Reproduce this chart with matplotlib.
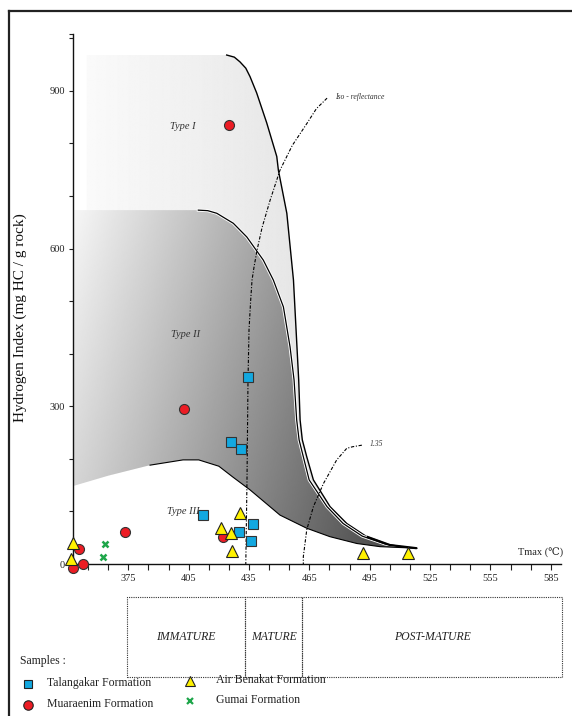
import numpy as np
import matplotlib
matplotlib.use("Agg")
import matplotlib.pyplot as plt
from matplotlib.patches import Polygon, Rectangle
from matplotlib.lines import Line2D
from matplotlib.transforms import blended_transform_factory

# ---------------- data ----------------
talangakar_tmax = [434.7, 426.1, 431.0, 412.0, 430.2, 436.9, 436.0]
talangakar_hi = [356, 232, 218, 93, 61, 76, 44]

muaraenim_tmax = [425.1, 402.5, 373.4, 422.0, 350.5, 347.3, 352.3]
muaraenim_hi = [835, 295, 60, 52, 28, -7, 0]

air_benakat_tmax = [430.5, 421.1, 426.1, 426.6, 347.4, 346.4, 491.6, 513.9]
air_benakat_hi = [97, 69, 59, 25, 39, 9, 21, 21]

gumai_tmax = [363.2, 362.4]
gumai_hi = [38, 13]

# kerogen-type envelopes (Tmax, HI)
type1_top_left = (354.3, 968)
type1_tmax = [423.9, 427.7, 430.5, 433.4, 435.5, 438.8, 443.8, 448.8, 449.6, 453.8, 457.1, 458.4,
              459.7, 460.4, 461.5, 463.7, 467.0, 475.3, 483.6, 493.5, 505.1, 518.4]
type1_hi = [968, 964, 955, 943, 927, 896, 839, 775, 749, 667, 540, 445,
            350, 274, 236, 204, 160, 109, 77, 52, 36, 30]

type2_left = (345.5, 673)
type2_tmax = [409.8, 414.5, 419.0, 427.2, 433.9, 442.1, 447.1, 452.1, 455.4, 457.4, 458.7,
              459.9, 462.0, 464.9, 473.8, 481.8, 491.3, 502.7, 512.6, 518.4]
type2_hi = [673, 672, 667, 648, 622, 578, 540, 489, 413, 350, 274,
            236, 204, 160, 109, 77, 53, 38, 32, 30]

type3_tmax = [345.5, 365.0, 385.8, 402.2, 410.0, 420.0, 427.1, 435.5, 450.4, 463.7,
              475.2, 488.6, 500.1, 518.4]
type3_hi = [146, 168, 188, 198, 198, 186, 165, 141, 93, 68, 52, 39, 33, 30]

iso1_tmax = [473.8, 468.5, 463.8, 456.5, 450.4, 445.5, 441.5, 439.0, 437.5, 436.5, 435.8,
             435.0, 434.5, 434.0, 433.4]
iso1_hi = [886, 866, 838, 796, 749, 692, 640, 597, 565, 540, 500,
           445, 350, 160, 0]

iso2_tmax = [491.1, 486.5, 483.6, 478.6, 472.0, 467.0, 463.7, 462.0, 462.0]
iso2_hi = [226, 223, 220, 198, 153, 109, 65, 14, 0]

x_ticks = list(range(355, 590, 10))
x_labels = [375, 405, 435, 465, 495, 525, 555, 585]
y_labels = [0, 300, 600, 900]

zones = ["IMMATURE", "MATURE", "POST-MATURE"]
zone_edges = [374.1, 433.0, 461.4, 590.5]

# ---------------- figure ----------------
plt.rcParams['font.family'] = ['Liberation Serif', 'DejaVu Serif']
W, H = 572, 716
fig = plt.figure(figsize=(W / 100, H / 100), dpi=100)
fig.patch.set_facecolor('white')

ax_left, ax_right = 73.0, 560.8
ax_top, ax_bottom = 34.0, 564.0
ax = fig.add_axes([ax_left / W, 1 - ax_bottom / H, (ax_right - ax_left) / W, (ax_bottom - ax_top) / H])
ax.set_facecolor('none')

XMIN, XMAX, YMIN, YMAX = 347.5, 590.0, 0, 1008

# gradient fills
gx, gy = np.meshgrid(np.linspace(340, 525, 500), np.linspace(0, 1000, 500))
g1 = np.clip(250 - 0.19 * (gx - 354), 200, 252) / 255.0
g2 = np.clip(248 - 0.8446 * (gx - 345.5) - 0.0631 * (673 - gy), 80, 250) / 255.0

poly1_pts = [type1_top_left] + list(zip(type1_tmax, type1_hi)) + \
    list(zip(type3_tmax[::-1], type3_hi[::-1]))[1:] + [(345.5, 673), (354.3, 673)]
poly1 = Polygon(poly1_pts, closed=True, facecolor='none', edgecolor='none')
ax.add_patch(poly1)
im1 = ax.imshow(g1, cmap='gray', vmin=0, vmax=1, origin='lower',
                extent=(340, 525, 0, 1000), aspect='auto', zorder=1, interpolation='bilinear')
im1.set_clip_path(poly1)

poly2_pts = [type2_left] + list(zip(type2_tmax, type2_hi)) + \
    list(zip(type3_tmax[::-1], type3_hi[::-1]))[1:]
poly2 = Polygon(poly2_pts, closed=True, facecolor='none', edgecolor='none')
ax.add_patch(poly2)
im2 = ax.imshow(g2, cmap='gray', vmin=0, vmax=1, origin='lower',
                extent=(340, 525, 0, 1000), aspect='auto', zorder=2, interpolation='bilinear')
im2.set_clip_path(poly2)

# envelope lines
ax.plot(type1_tmax, type1_hi, color='black', lw=1.0, zorder=3)
ax.plot(type2_tmax, type2_hi, color='white', lw=2.2, zorder=3)
ax.plot(type2_tmax, type2_hi, color='black', lw=0.9, zorder=3.1)
t3 = [(x, y) for x, y in zip(type3_tmax, type3_hi) if x >= 375]
ax.plot([p[0] for p in t3], [p[1] for p in t3], color='black', lw=0.8, zorder=3)
ax.plot(type1_tmax[-3:], type1_hi[-3:], color='black', lw=1.6, zorder=3.2,
        solid_capstyle='butt')

# iso-reflectance lines
ax.plot(iso1_tmax, iso1_hi, color='black', lw=0.8, ls=(0, (3, 1.5, 1, 1.5)), zorder=4)
ax.plot(iso2_tmax, iso2_hi, color='black', lw=0.8, ls=(0, (3, 1.5, 1, 1.5)), zorder=4)
ax.text(478.0, 888, "Iso - reflectance", fontsize=5.5, style='italic', color='#333333',
        ha='left', va='center', zorder=5)
ax.text(495.0, 228, "1.35", fontsize=5.5, style='italic', color='#333333',
        ha='left', va='center', zorder=5)

# type labels
ax.text(402.0, 833, "Type I", fontsize=7.5, style='italic', color='#333333',
        ha='center', va='center', zorder=5)
ax.text(403.5, 437, "Type II", fontsize=7.5, style='italic', color='#333333',
        ha='center', va='center', zorder=5)
ax.text(410.3, 99, "Type III", fontsize=7.5, style='italic', color='#333333',
        ha='right', va='center', zorder=5)

# samples
ax.plot(talangakar_tmax, talangakar_hi, ls='none', marker='s', ms=6.5, mfc='#13a8e0',
        mec='#333333', mew=0.8, zorder=6, clip_on=False)
ax.plot(muaraenim_tmax, muaraenim_hi, ls='none', marker='o', ms=7.2, mfc='#ec1c24',
        mec='#333333', mew=0.8, zorder=6, clip_on=False)
ax.plot(air_benakat_tmax, air_benakat_hi, ls='none', marker='^', ms=8, mfc='#fff200',
        mec='#222222', mew=0.8, zorder=6, clip_on=False)
ax.plot(gumai_tmax, gumai_hi, ls='none', marker='x', ms=5, mec='#1ea64a',
        mew=1.8, zorder=6, clip_on=False)

# axes
ax.set_xlim(XMIN, XMAX)
ax.set_ylim(YMIN, YMAX)
for s in ['top', 'right']:
    ax.spines[s].set_visible(False)
for s in ['left', 'bottom']:
    ax.spines[s].set_linewidth(1.0)
    ax.spines[s].set_color('#111111')
ax.set_xticks(x_ticks)
ax.set_xticklabels([str(v) if v in x_labels else '' for v in x_ticks])
yt = list(range(0, 1001, 100)) + [1008]
ax.set_yticks(yt)
ax.set_yticklabels([str(v) if v in y_labels else '' for v in yt])
ax.tick_params(axis='x', length=4, width=0.8, pad=3, labelsize=7.5, colors='#222222')
ax.tick_params(axis='y', length=3, width=0.8, pad=3, labelsize=7.5, colors='#222222')

ax.text(591, 20, "Tmax (\u2103)", fontsize=7.5, ha='right', va='center', color='#222222',
        clip_on=False, zorder=5)

fig.text(20 / W, 1 - 318 / H, "Hydrogen Index (mg HC / g rock)", rotation=90,
         fontsize=11, ha='center', va='center', color='#111111')

# maturity boxes
btr = blended_transform_factory(ax.transData, fig.transFigure)
by0, by1 = 1 - 677 / H, 1 - 597 / H
for i, name in enumerate(zones):
    x0, x1 = zone_edges[i], zone_edges[i + 1]
    r = Rectangle((x0, by0), x1 - x0, by1 - by0, transform=btr, fill=False,
                  ls=(0, (1, 1)), lw=0.8, edgecolor='#333333', clip_on=False)
    fig.add_artist(r)
    xc = (x0 + x1) / 2
    fig.text(xc, (by0 + by1) / 2, name, transform=btr, fontsize=8.5, style='italic',
             ha='center', va='center', color='#222222')

# legend
fig.text(20 / W, 1 - 661 / H, "Samples :", fontsize=8.5, ha='left', va='center', color='#222222')
leg = [
    (28, 684, 's', '#13a8e0', 6.0, "Talangakar Formation", 47),
    (190, 681, '^', '#fff200', 7.5, "Air Benakat Formation", 216),
    (28, 705, 'o', '#ec1c24', 6.8, "Muaraenim Formation", 47),
    (190, 701, 'x', '#1ea64a', 4.5, "Gumai Formation", 216),
]
for mx, my, mk, col, ms, label, tx in leg:
    if mk == 'x':
        ln = Line2D([mx / W], [1 - my / H], transform=fig.transFigure, marker='x', ms=ms,
                    mec=col, mew=1.6, ls='none')
    else:
        ln = Line2D([mx / W], [1 - my / H], transform=fig.transFigure, marker=mk, ms=ms,
                    mfc=col, mec='#222222', mew=0.8, ls='none')
    fig.add_artist(ln)
    fig.text(tx / W, 1 - (my - 1) / H, label, fontsize=8.5, ha='left', va='center', color='#222222')

# outer frame (left and top edges visible)
fig.add_artist(Line2D([8.5 / W, 8.5 / W], [0, 1 - 11 / H], transform=fig.transFigure,
                      color='#222222', lw=1.6))
fig.add_artist(Line2D([8.5 / W, 1.0], [1 - 11 / H, 1 - 11 / H], transform=fig.transFigure,
                      color='#222222', lw=1.6))

fig.savefig("out.png", dpi=100)
